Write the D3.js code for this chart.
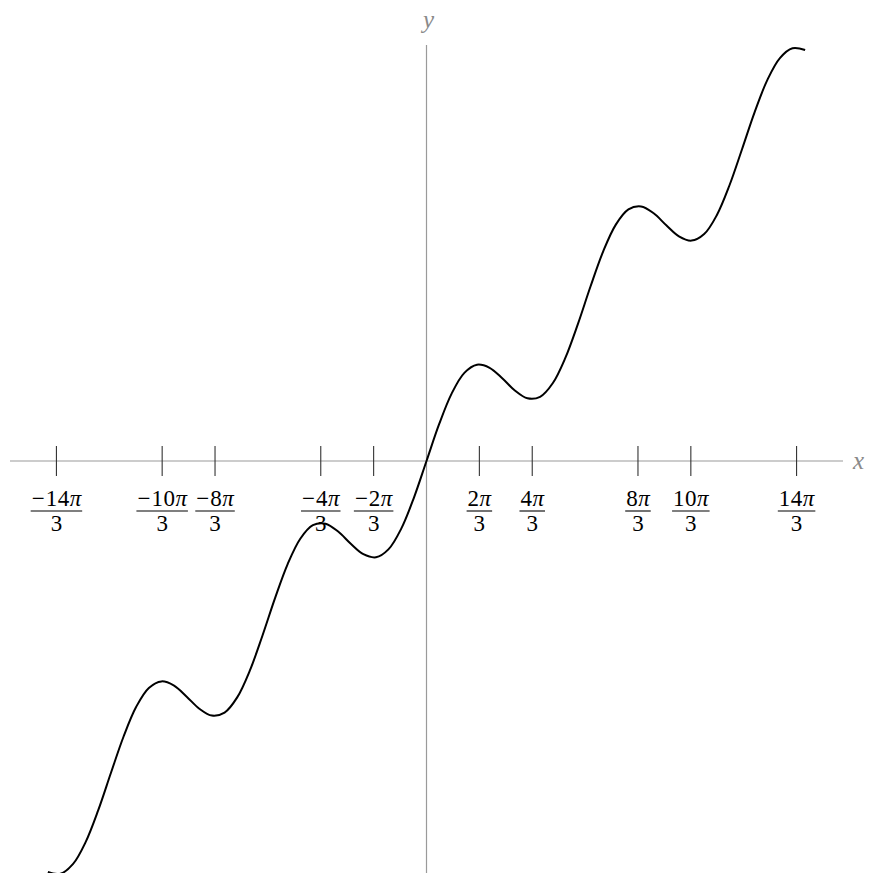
<!DOCTYPE html>
<html>
<head>
<meta charset="utf-8">
<script src="https://cdn.jsdelivr.net/npm/d3@7"></script>
<style>
html,body{margin:0;padding:0;background:#fff;}
svg{display:block;}
</style>
</head>
<body>
<svg id="chart" width="869" height="873"></svg>
<script>
// Curve samples (x, y)
const xs = [-15,-14.5,-14,-13.5,-13,-12.5,-12,-11.5,-11,-10.5,-10,-9.5,-9,-8.5,-8,-7.5,-7,-6.5,-6,-5.5,-5,-4.5,-4,-3.5,-3,-2.5,-2,-1.5,-1,-0.5,0,0.5,1,1.5,2,2.5,3,3.5,4,4.5,5,5.5,6,6.5,7,7.5,8,8.5,9,9.5,10,10.5,11,11.5,12,12.5,13,13.5,14,14.5,15];
const ys = [-16.301,-16.370,-15.981,-15.108,-13.840,-12.367,-10.927,-9.749,-9.000,-8.741,-8.912,-9.350,-9.824,-10.097,-9.979,-9.376,-8.314,-6.930,-5.441,-4.089,-3.082,-2.545,-2.486,-2.798,-3.282,-3.697,-3.819,-3.495,-2.683,-1.459,0,1.459,2.683,3.495,3.819,3.697,3.282,2.798,2.486,2.545,3.082,4.089,5.441,6.930,8.314,9.376,9.979,10.097,9.824,9.350,8.912,8.741,9.000,9.749,10.927,12.367,13.840,15.108,15.981,16.370,16.301];
// Tick labels: numerator multiples of pi/3
const tickNumerators = [-14,-10,-8,-4,-2,2,4,8,10,14];
const tickDenominator = "3";
const axisLabels = {x: "x", y: "y"};

const svg = d3.select("#chart");
const x = d3.scaleLinear().domain([-16.5, 16.5]).range([10, 843]);
const y = d3.scaleLinear().domain([-16.5, 16.5]).range([877, 45]);

const axisColor = "#9a9a9a";
const serif = "'Liberation Serif','DejaVu Serif',serif";

// axes
svg.append("line").attr("x1", x(-16.5)).attr("x2", x(16.5)).attr("y1", y(0)).attr("y2", y(0))
  .attr("stroke", axisColor).attr("stroke-width", 1.2);
svg.append("line").attr("x1", x(0)).attr("x2", x(0)).attr("y1", y(16.5)).attr("y2", y(-16.5))
  .attr("stroke", axisColor).attr("stroke-width", 1.2);

svg.append("text").attr("x", x(16.5) + 10).attr("y", y(0) + 8)
  .attr("font-family", serif).attr("font-style", "italic").attr("font-size", 25)
  .attr("fill", "#8a8a8a").text(axisLabels.x);
svg.append("text").attr("x", x(0) + 2).attr("y", y(16.5) - 17).attr("text-anchor", "middle")
  .attr("font-family", serif).attr("font-style", "italic").attr("font-size", 25)
  .attr("fill", "#8a8a8a").text(axisLabels.y);

// ticks
const tg = svg.append("g");
tickNumerators.forEach(n => {
  const xv = x(n * Math.PI / 3);
  const g = tg.append("g").attr("transform", `translate(${xv},0)`);
  g.append("line").attr("x1", 0).attr("x2", 0).attr("y1", y(0) - 15).attr("y2", y(0) + 15)
    .attr("stroke", "#333").attr("stroke-width", 1.1);
  const t = g.append("text").attr("x", 0).attr("y", y(0) + 45).attr("text-anchor", "middle")
    .attr("font-family", serif).attr("font-size", 23).attr("fill", "#000");
  if (n < 0) t.append("tspan").text("\u2212").attr("letter-spacing", 1);
  t.append("tspan").text(String(Math.abs(n))).attr("letter-spacing", 0.5);
  t.append("tspan").attr("font-style", "italic").text("\u03c0");
  const w = t.node().getComputedTextLength();
  g.append("line").attr("x1", -w / 2 - 1).attr("x2", w / 2 + 1)
    .attr("y1", y(0) + 50).attr("y2", y(0) + 50).attr("stroke", "#000").attr("stroke-width", 1.1);
  g.append("text").attr("x", 0).attr("y", y(0) + 70).attr("text-anchor", "middle")
    .attr("font-family", serif).attr("font-size", 23).attr("fill", "#000").text(tickDenominator);
});

// curve
const pts = xs.map((v, i) => [v, ys[i]]);
const line = d3.line().x(d => x(d[0])).y(d => y(d[1])).curve(d3.curveCatmullRom.alpha(0.5));
svg.append("path").datum(pts).attr("d", line).attr("fill", "none")
  .attr("stroke", "#000").attr("stroke-width", 2);
</script>
</body>
</html>
